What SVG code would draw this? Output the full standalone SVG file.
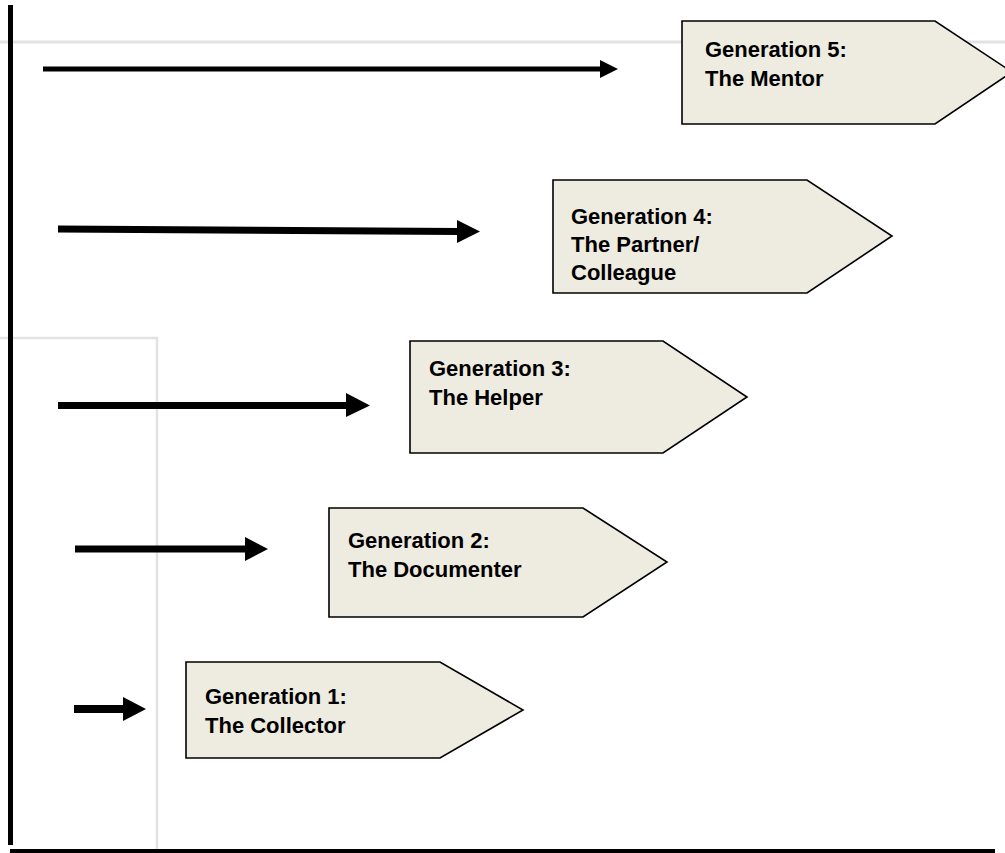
<svg xmlns="http://www.w3.org/2000/svg" width="1005" height="853" viewBox="0 0 1005 853">
<defs>
<style>
.gen{fill:#EEEBE0;stroke:#000;stroke-width:1.6;stroke-linejoin:miter}
.lbl{font-family:"Liberation Sans",Arial,sans-serif;font-weight:bold;font-size:22px;fill:#000}
.conn{stroke:#000;fill:none}
.grid{stroke:#E2E2E2;fill:none}
</style>
</defs>
<rect width="1005" height="853" fill="#fff"/>
<g id="background">
<line class="grid" x1="0" y1="42" x2="1005" y2="42" stroke-width="3"/>
<polyline class="grid" points="0,338 157,338 157,853" stroke-width="2.5" stroke="#D8D8D8"/>
<line x1="10.5" y1="5" x2="10.5" y2="845" stroke="#000" stroke-width="5"/>
<line x1="10" y1="851" x2="995" y2="851" stroke="#000" stroke-width="4"/>
</g>
<g id="connectors">
<line class="conn" x1="43" y1="69" x2="602" y2="69" stroke-width="5"/>
<polygon points="600,60 618,69 600,78" fill="#000"/>
<line class="conn" x1="58" y1="229" x2="459" y2="231.5" stroke-width="7"/>
<polygon points="457,220 480,231.5 457,243" fill="#000"/>
<line class="conn" x1="58" y1="405.5" x2="348" y2="405.5" stroke-width="7"/>
<polygon points="346,393 370,405.5 346,417" fill="#000"/>
<line class="conn" x1="75" y1="549" x2="247" y2="549" stroke-width="7"/>
<polygon points="245,537 268,549 245,561" fill="#000"/>
<line class="conn" x1="74" y1="709" x2="125" y2="709" stroke-width="8"/>
<polygon points="123,697 146,709 123,721" fill="#000"/>
</g>
<g id="gen5">
<polygon class="gen" points="682,21 935,21 1012,72 935,124 682,124"/>
<text class="lbl" x="705" y="57">Generation 5:</text>
<text class="lbl" x="705" y="86">The Mentor</text>
</g>
<g id="gen4">
<polygon class="gen" points="553,180 807,180 892,236 807,293 553,293"/>
<text class="lbl" x="571" y="224">Generation 4:</text>
<text class="lbl" x="571" y="252">The Partner/</text>
<text class="lbl" x="571" y="280">Colleague</text>
</g>
<g id="gen3">
<polygon class="gen" points="410,341 663,341 747,397 663,453 410,453"/>
<text class="lbl" x="429" y="376">Generation 3:</text>
<text class="lbl" x="429" y="405">The Helper</text>
</g>
<g id="gen2">
<polygon class="gen" points="329,508 583,508 667,562 583,617 329,617"/>
<text class="lbl" x="348" y="548">Generation 2:</text>
<text class="lbl" x="348" y="577">The Documenter</text>
</g>
<g id="gen1">
<polygon class="gen" points="186,662 440,662 523,710 440,758 186,758"/>
<text class="lbl" x="205" y="704">Generation 1:</text>
<text class="lbl" x="205" y="733">The Collector</text>
</g>
</svg>
